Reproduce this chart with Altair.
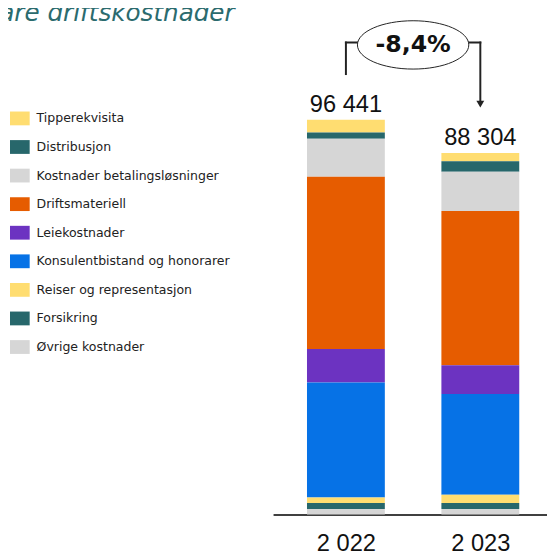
import altair as alt
import pandas as pd

# ---- data ----
years = [2022, 2023]
categories = [
    "Tipperekvisita",
    "Distribusjon",
    "Kostnader betalingsløsninger",
    "Driftsmateriell",
    "Leiekostnader",
    "Konsulentbistand og honorarer",
    "Reiser og representasjon",
    "Forsikring",
    "Øvrige kostnader",
]
values_2022 = [3130, 1520, 9290, 42050, 8180, 28090, 1370, 1440, 1371]
values_2023 = [2000, 2580, 9560, 37684, 7050, 24620, 2000, 1440, 1370]
totals = [96441, 88304]
colors = ["#ffdd71", "#27676b", "#d6d6d6", "#e65c00", "#6c33c1",
          "#0672e6", "#ffdd71", "#27676b", "#d6d6d6"]
title_text = "are driftskostnader"

# ---- tables ----
rows = []
for yr, vals in zip(years, [values_2022, values_2023]):
    for i, (c, v) in enumerate(zip(categories, vals)):
        rows.append({"year": yr, "category": c, "value": v, "order": len(categories) - 1 - i})
df = pd.DataFrame(rows)

df_tot = pd.DataFrame({
    "year": years,
    "total": totals,
    "label": [f"{t:,}".replace(",", " ") for t in totals],
})

change = totals[1] / totals[0] - 1
change_label = f"{change * 100:.1f}".replace(".", ",") + "%"
top_level = max(totals) * 1.1955
mid_year = sum(years) / 2

df_vert = pd.DataFrame({
    "x": years,
    "y": [totals[0] * 1.1157, totals[1] * 1.1353],
    "y2": [top_level, top_level],
})
df_horiz = pd.DataFrame({
    "x": [years[0], mid_year],
    "x2": [mid_year, years[1]],
    "y": [top_level, top_level],
})
df_arrow = pd.DataFrame({"x": [years[1]], "y": [totals[1] * 1.1353]})
df_change = pd.DataFrame({"x": [mid_year], "y": [top_level * 0.995], "label": [change_label]})

# ellipse outline (unit shape, ratio of height to width 0.434) made of cubic curves
ELLIPSE = ("M-1,0C-1,-0.2397,-0.5523,-0.434,0,-0.434"
           "C0.5523,-0.434,1,-0.2397,1,0"
           "C1,0.2397,0.5523,0.434,0,0.434"
           "C-0.5523,0.434,-1,0.2397,-1,0Z")

# ---- scales ----
xscale = alt.Scale(domain=[2021.4947, 2023.4594], nice=False, zero=False)
yscale = alt.Scale(domain=[0, 122757], nice=False)
xaxis = alt.Axis(
    values=years,
    labelExpr="replace(format(datum.value, ','), ',', ' ')",
    title=None,
    ticks=False,
    grid=False,
    domainColor="#000000",
    domainWidth=1.5,
    labelFont="Liberation Sans",
    labelFontSize=24,
    labelColor="#111111",
    labelPadding=17,
    labelFlush=False,
)

bars = alt.Chart(df).mark_bar(size=79).encode(
    x=alt.X("year:Q", scale=xscale, axis=xaxis),
    y=alt.Y("value:Q", stack="zero", scale=yscale, axis=None),
    color=alt.Color(
        "category:N",
        scale=alt.Scale(domain=categories, range=colors),
        legend=alt.Legend(
            title=None,
            orient="none",
            legendX=-267,
            legendY=98,
            symbolType="M-1,-0.7H1V0.7H-1Z",
            symbolSize=400,
            symbolStrokeWidth=0,
            symbolOpacity=1,
            labelFont="DejaVu Sans",
            labelFontSize=12.7,
            labelColor="#222222",
            labelOffset=7,
            rowPadding=12,
            padding=0,
            labelLimit=400,
        ),
    ),
    order=alt.Order("order:Q", sort="ascending"),
)

tot_text = alt.Chart(df_tot).mark_text(
    baseline="alphabetic", dy=-8, font="Liberation Sans", fontSize=24, color="#111111"
).encode(
    x=alt.X("year:Q", scale=xscale, axis=xaxis),
    y=alt.Y("total:Q", scale=yscale, axis=None),
    text="label:N",
)

vert = alt.Chart(df_vert).mark_rule(color="#222222", strokeWidth=2, strokeCap="square").encode(
    x=alt.X("x:Q", scale=xscale, axis=xaxis),
    y=alt.Y("y:Q", scale=yscale, axis=None),
    y2="y2:Q",
)
horiz = alt.Chart(df_horiz).mark_rule(color="#222222", strokeWidth=2, strokeCap="square").encode(
    x=alt.X("x:Q", scale=xscale, axis=xaxis),
    x2="x2:Q",
    y=alt.Y("y:Q", scale=yscale, axis=None),
)
arrow = alt.Chart(df_arrow).mark_point(
    shape="triangle-down", size=64, filled=True, color="#222222", opacity=1
).encode(
    x=alt.X("x:Q", scale=xscale, axis=xaxis),
    y=alt.Y("y:Q", scale=yscale, axis=None),
)
ellipse = alt.Chart(df_change).mark_point(
    shape=ELLIPSE,
    size=12769, filled=True, fill="#ffffff", stroke="#222222", strokeWidth=1, opacity=1,
).encode(
    x=alt.X("x:Q", scale=xscale, axis=xaxis),
    y=alt.Y("y:Q", scale=yscale, axis=None),
)
change_text = alt.Chart(df_change).mark_text(
    baseline="middle", font="DejaVu Sans", fontWeight="bold", fontSize=24, color="#111111"
).encode(
    x=alt.X("x:Q", scale=xscale, axis=xaxis),
    y=alt.Y("y:Q", scale=yscale, axis=None),
    text="label:N",
)

chart = alt.layer(bars, tot_text, vert, horiz, arrow, ellipse, change_text).properties(
    width=278,
    height=510,
    background="#ffffff",
    autosize=alt.AutoSizeParams(type="none"),
    padding={"left": 269, "top": 0, "right": 0, "bottom": 37},
    title=alt.TitleParams(
        title_text,
        orient="none",
        anchor="start",
        frame="group",
        align="right",
        dx=-39,
        dy=9,
        offset=0,
        baseline="alphabetic",
        font="DejaVu Sans",
        fontStyle="italic",
        fontWeight="normal",
        fontSize=25,
        color="#2b6b6e",
    ),
).configure_view(strokeWidth=0)

chart.save("out.html", embed_options={"renderer": "svg", "actions": False})
